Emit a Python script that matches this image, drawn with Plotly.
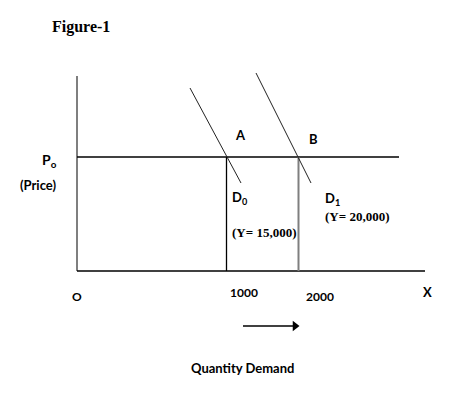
import plotly.graph_objects as go

# Schematic coordinates (quantity units along X, price units along Y); origin O at (0, 0)
axis_x_end = 348          # end of X axis
axis_y_top = 195          # top of price axis
price_p0 = 114            # level of P0
q_levels = [149.5, 221.5] # quantities 1000 and 2000 on the schematic
q_labels = ["1000", "2000"]
price_line_end = 322
# demand curves: two points each (top, bottom)
d0_x = [113, 164]
d0_y = [183, 88]
d1_x = [179, 234]
d1_y = [198, 88]
point_labels = ["A", "B"]
curve_labels = ["D<sub>0</sub>", "D<sub>1</sub>"]
income_labels = ["(Y= 15,000)", "(Y= 20,000)"]
arrow_x = [166, 218]
arrow_y = [-55, -55]

BLACK = "#000000"
GREY = "#7f7f7f"

fig = go.Figure()

def line(xs, ys, color=BLACK, width=1.2):
    fig.add_trace(go.Scatter(x=xs, y=ys, mode="lines",
                             line=dict(color=color, width=width),
                             hoverinfo="skip", showlegend=False))

# axes
line([0, 0], [0, axis_y_top], color=GREY, width=2)
line([0, axis_x_end], [0, 0], color=BLACK, width=1.3)
# price line
line([0, price_line_end], [price_p0, price_p0], color=BLACK, width=1.3)
# vertical drops
line([q_levels[0], q_levels[0]], [0, price_p0], color=BLACK, width=1.3)
line([q_levels[1], q_levels[1]], [0, price_p0], color=GREY, width=2)
# demand curves
line(d0_x, d0_y, color="#222222", width=1)
line(d1_x, d1_y, color="#222222", width=1)
# arrow shaft and head
line(arrow_x, arrow_y, color=BLACK, width=1.3)
fig.add_trace(go.Scatter(x=[arrow_x[1]], y=[arrow_y[1]], mode="markers",
                         marker=dict(symbol="triangle-right", size=9, color=BLACK),
                         hoverinfo="skip", showlegend=False))

CAL = "Lato"
SER = "Liberation Serif"

def text(x, y, s, font=CAL, size=12, bold=True, xanchor="center"):
    fig.add_annotation(x=x, y=y, xref="x", yref="y", text=(f"<b>{s}</b>" if bold else s),
                       showarrow=False, xanchor=xanchor, yanchor="middle",
                       font=dict(family=font, size=size, color=BLACK))

text(-27, 244, "Figure-1", font=SER, size=16, xanchor="left")
text(-37, 111, "P<sub>o</sub>", size=14, xanchor="left")
text(-59, 86, "(Price)", size=13, xanchor="left")
text(163, 136, point_labels[0], size=13)
text(236, 132, point_labels[1], size=13)
text(153, 73, curve_labels[0], size=13, xanchor="left")
text(153, 39, income_labels[0], font=SER, size=13, xanchor="left")
text(246, 72, curve_labels[1], size=13, xanchor="left")
text(246, 55, income_labels[1], font=SER, size=13, xanchor="left")
text(0, -25, "O", size=12)
text(167, -21, q_labels[0], size=12)
text(243, -25, q_labels[1], size=12)
text(350, -21, "X", size=13)
text(165, -97, "Quantity Demand", size=13)

# ranges offset to compensate the page's 8px body margin
fig.update_xaxes(range=[-69, 403], visible=False, fixedrange=True)
fig.update_yaxes(range=[-131, 263], visible=False, fixedrange=True)
fig.update_layout(width=472, height=394, autosize=False,
                  margin=dict(l=0, r=0, t=0, b=0),
                  paper_bgcolor="white", plot_bgcolor="white",
                  showlegend=False)

fig.write_html("out.html")
